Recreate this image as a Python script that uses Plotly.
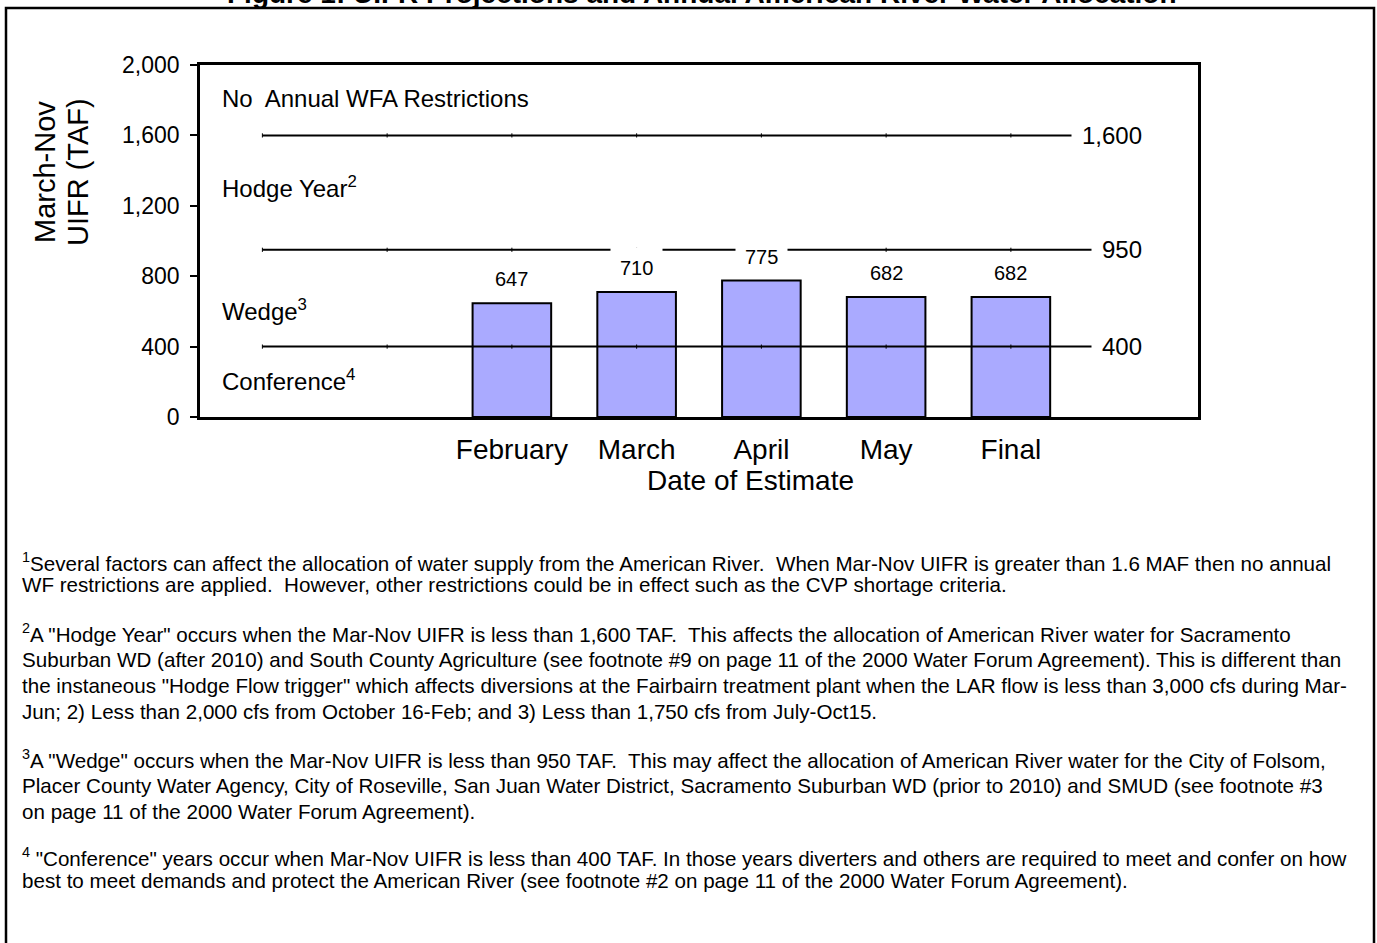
import plotly.graph_objects as go

# ---------------- data ----------------
months = ["February", "March", "April", "May", "Final"]
uifr_taf = [647, 710, 775, 682, 682]
slots = ["pad0", "pad1"] + months + ["pad2"]          # category slots on the x axis
thresholds = [1600, 950, 400]
zone_labels = ["No  Annual WFA Restrictions", "Hodge Year<sup>2</sup>",
               "Wedge<sup>3</sup>", "Conference<sup>4</sup>"]
y_ticks = [0, 400, 800, 1200, 1600, 2000]
title_text = "Figure 1: UIFR Projections and Annual American River Water Allocation"
footnotes = [
    ["<sup>1</sup>Several factors can affect the allocation of water supply from the American River.  When Mar-Nov UIFR is greater than 1.6 MAF then no annual",
     "WF restrictions are applied.  However, other restrictions could be in effect such as the CVP shortage criteria."],
    ["<sup>2</sup>A \"Hodge Year\" occurs when the Mar-Nov UIFR is less than 1,600 TAF.  This affects the allocation of American River water for Sacramento",
     "Suburban WD (after 2010) and South County Agriculture (see footnote #9 on page 11 of the 2000 Water Forum Agreement). This is different than",
     "the instaneous \"Hodge Flow trigger\" which affects diversions at the Fairbairn treatment plant when the LAR flow is less than 3,000 cfs during Mar-",
     "Jun; 2) Less than 2,000 cfs from October 16-Feb; and 3) Less than 1,750 cfs from July-Oct15."],
    ["<sup>3</sup>A \"Wedge\" occurs when the Mar-Nov UIFR is less than 950 TAF.  This may affect the allocation of American River water for the City of Folsom,",
     "Placer County Water Agency, City of Roseville, San Juan Water District, Sacramento Suburban WD (prior to 2010) and SMUD (see footnote #3",
     "on page 11 of the 2000 Water Forum Agreement)."],
    ["<sup>4</sup> \"Conference\" years occur when Mar-Nov UIFR is less than 400 TAF. In those years diverters and others are required to meet and confer on how",
     "best to meet demands and protect the American River (see footnote #2 on page 11 of the 2000 Water Forum Agreement)."],
]

# ---------------- layout geometry (pixels) ----------------
W, H = 1377, 943
PL, PR, PT, PB = 200, 1198, 65, 417
FONT = "Arial, 'Liberation Sans', sans-serif"


def px(x):
    return (x - PL) / (PR - PL)


def py(y):
    return (PB - y) / (PB - PT)


fig = go.Figure()

# threshold lines
for t in thresholds:
    fig.add_trace(go.Scatter(
        x=slots, y=[t] * len(slots), mode="lines+markers",
        line=dict(color="black", width=2),
        marker=dict(symbol="line-ns", size=3, line=dict(color="black", width=1)),
        showlegend=False, hoverinfo="skip"))

# bars
fig.add_trace(go.Bar(
    x=months, y=uifr_taf, width=0.63,
    marker=dict(color="#AAAAFF", line=dict(color="black", width=2)),
    showlegend=False))

ann = []
# bar value labels
for m, v in zip(months, uifr_taf):
    ann.append(dict(x=m, y=v, xref="x", yref="y", text=str(v), showarrow=False,
                    yanchor="middle", yshift=24, bgcolor="white", borderpad=9,
                    font=dict(size=20, color="black", family=FONT)))
# threshold labels
for t in thresholds:
    ann.append(dict(x=slots[-1], y=t, xref="x", yref="y", text=f"{t:,}", showarrow=False,
                    xanchor="right", yanchor="middle", xshift=17, bgcolor="white", borderpad=10,
                    font=dict(size=24, color="black", family=FONT)))
# zone labels
for lab, yc in zip(zone_labels, [99, 187, 310, 380]):
    ann.append(dict(x=px(220), y=py(yc), xref="paper", yref="paper", text=lab, showarrow=False,
                    xanchor="left", yanchor="middle",
                    font=dict(size=24, color="black", family=FONT)))
# y title (two rotated lines)
for lab, xc in zip(["March-Nov", "UIFR (TAF)"], [45, 78]):
    ann.append(dict(x=px(xc), y=py(172), xref="paper", yref="paper", text=lab, showarrow=False,
                    textangle=-90, xanchor="center", yanchor="middle",
                    font=dict(size=29, color="black", family=FONT)))
# x title
ann.append(dict(x=px(750), y=py(480), xref="paper", yref="paper", text="Date of Estimate",
                showarrow=False, xanchor="center", yanchor="middle",
                font=dict(size=28, color="black", family=FONT)))
# figure title (cut off at top of page)
ann.append(dict(x=px(702), y=py(11), xref="paper", yref="paper", text="<b>" + title_text + "</b>",
                showarrow=False, xanchor="center", yanchor="bottom",
                font=dict(size=28, color="black", family=FONT)))
# footnotes
line_y = [[562, 584], [633, 659, 685, 711], [759, 785, 811], [857, 880]]
for para, ys in zip(footnotes, line_y):
    for txt, yc in zip(para, ys):
        ann.append(dict(x=px(20), y=py(yc), xref="paper", yref="paper", text=txt, showarrow=False,
                        xanchor="left", yanchor="middle", align="left",
                        font=dict(size=20.6, color="black", family=FONT)))

shapes = [dict(type="rect", xref="paper", yref="paper",
               x0=px(6), x1=px(1374), y0=py(990), y1=py(8),
               line=dict(color="black", width=2.5), fillcolor="rgba(0,0,0,0)", layer="below")]

fig.update_layout(
    width=W, height=H, autosize=False,
    margin=dict(l=PL, r=W - PR, t=PT, b=H - PB, pad=0),
    paper_bgcolor="white", plot_bgcolor="white",
    font=dict(family=FONT, color="black"),
    bargap=0.37,
    annotations=ann, shapes=shapes,
    xaxis=dict(type="category", categoryorder="array", categoryarray=slots,
               range=[-0.5, len(slots) - 0.5],
               tickmode="array", tickvals=months, ticktext=months,
               ticks="", showgrid=False, zeroline=False,
               showline=True, mirror=True, linecolor="black", linewidth=2.5,
               tickfont=dict(size=28, color="black", family=FONT), ticklabelstandoff=6),
    yaxis=dict(range=[0, 2000], tickmode="array", tickvals=y_ticks, tickformat=",",
               ticks="outside", ticklen=7, tickwidth=2, tickcolor="black",
               showgrid=False, zeroline=False,
               showline=True, mirror=True, linecolor="black", linewidth=2.5,
               tickfont=dict(size=23, color="black", family=FONT), ticklabelstandoff=6),
)

fig.write_html("out.html", config={"displayModeBar": False},
               post_script="document.body.style.margin='0';document.body.style.overflow='hidden';")
